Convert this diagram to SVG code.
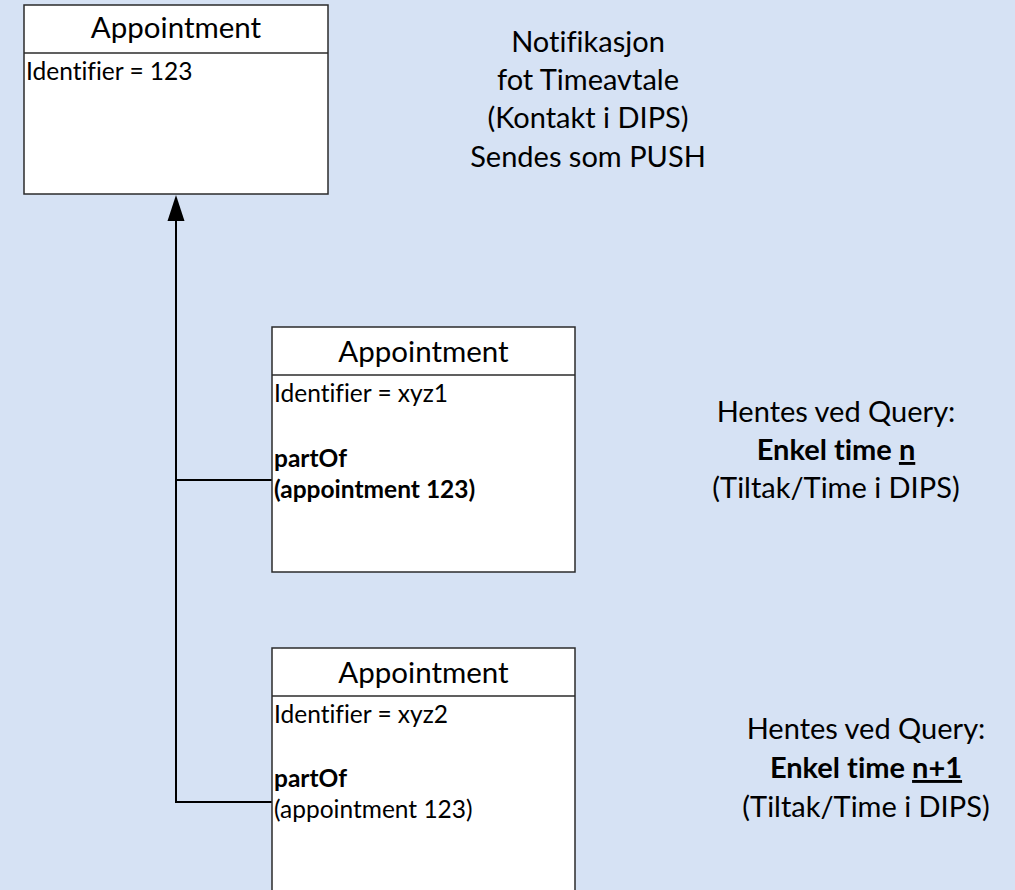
<svg xmlns="http://www.w3.org/2000/svg" width="1015" height="890" viewBox="0 0 1015 890">
<defs>
<style>
.bg{fill:#D6E2F4}
.box{fill:#FFFFFF;stroke:#2b2b2b;stroke-width:1.5}
.sep{stroke:#2b2b2b;stroke-width:1.5}
text{font-variant-ligatures:none}
.hdr{font-family:Lato,"Liberation Sans",sans-serif;font-size:29.5px;fill:#000;text-anchor:middle}
.att{font-family:Lato,"Liberation Sans",sans-serif;font-size:24.5px;fill:#000}
.b{font-weight:bold}
.note{font-family:Lato,"Liberation Sans",sans-serif;font-size:29px;fill:#000;text-anchor:middle}
.conn{fill:none;stroke:#000;stroke-width:2}
.u{text-decoration:underline}
</style>
</defs>
<rect class="bg" x="0" y="0" width="1015" height="890"/>

<g id="connectors">
<path class="conn" d="M176,220 L176,802 L272,802"/>
<path class="conn" d="M176,480 L272,480"/>
<path d="M167.5,221 L176,195 L184.5,221 Z" fill="#000"/>
</g>

<g id="appointment-123">
<rect class="box" x="24" y="5" width="304" height="189"/>
<line class="sep" x1="24" y1="53" x2="328" y2="53"/>
<text class="hdr" x="176" y="38">Appointment</text>
<text class="att" x="26" y="80">Identifier = 123</text>
</g>

<g id="appointment-xyz1">
<rect class="box" x="272" y="327" width="303" height="245"/>
<line class="sep" x1="272" y1="375" x2="575" y2="375"/>
<text class="hdr" x="423.5" y="362">Appointment</text>
<text class="att" x="274" y="402">Identifier = xyz1</text>
<text class="att b" x="274" y="467">partOf</text>
<text class="att b" x="274" y="498">(appointment 123)</text>
</g>

<g id="appointment-xyz2">
<rect class="box" x="272" y="648" width="303" height="260"/>
<line class="sep" x1="272" y1="696" x2="575" y2="696"/>
<text class="hdr" x="423.5" y="683">Appointment</text>
<text class="att" x="274" y="723">Identifier = xyz2</text>
<text class="att b" x="274" y="787">partOf</text>
<text class="att" x="274" y="818">(appointment 123)</text>
</g>

<g id="note-push">
<text class="note" x="588" y="52">Notifikasjon</text>
<text class="note" x="588" y="90">fot Timeavtale</text>
<text class="note" x="588" y="128">(Kontakt i DIPS)</text>
<text class="note" x="588" y="167">Sendes som PUSH</text>
</g>

<g id="note-query-n">
<text class="note" x="836" y="422">Hentes ved Query:</text>
<text class="note b" x="836" y="460">Enkel time <tspan class="u">n</tspan></text>
<text class="note" x="836" y="498">(Tiltak/Time i DIPS)</text>
</g>

<g id="note-query-n1">
<text class="note" x="866" y="739">Hentes ved Query:</text>
<text class="note b" x="866" y="778">Enkel time <tspan class="u">n+1</tspan></text>
<text class="note" x="866" y="817">(Tiltak/Time i DIPS)</text>
</g>
</svg>
